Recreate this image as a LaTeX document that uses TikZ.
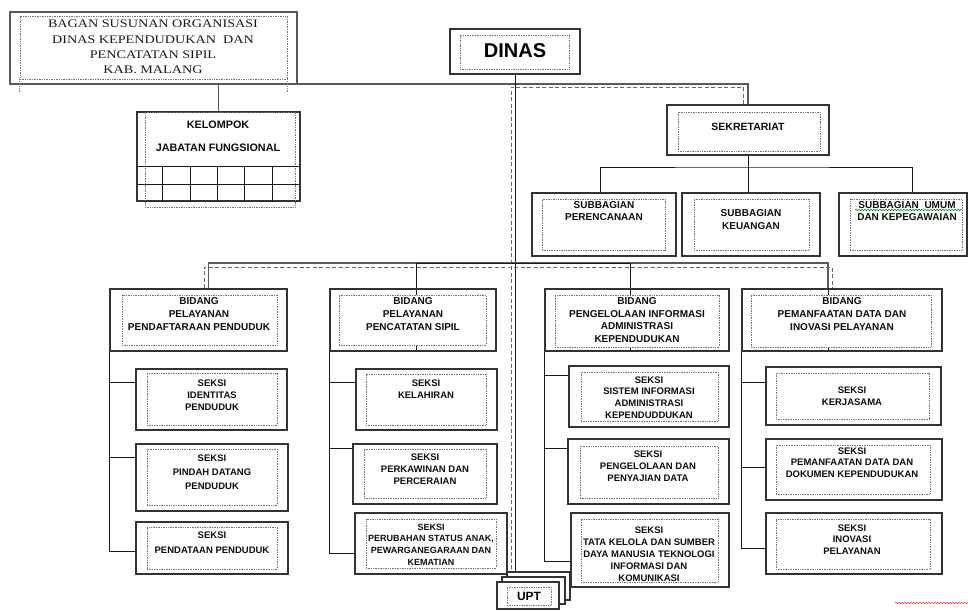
\documentclass[tikz,border=0pt]{standalone}
\usepackage{fontspec}
\setmainfont{Liberation Sans}
\newfontfamily\titlefont[FakeStretch=1.22]{Liberation Serif}
\usetikzlibrary{calc,fit,backgrounds,decorations.pathmorphing}

\tikzset{
  obox/.style={draw=black!80, line width=1.4pt, inner sep=0pt},
  ibox/.style={draw=black!55, densely dotted, line width=0.7pt, inner sep=0pt, fill=white},
  dotline/.style={draw=black!55, densely dotted, line width=0.7pt},
  txt/.style={align=center, inner sep=0pt, text=black!95, font=\fontsize{9.5}{12.2}\selectfont\bfseries},
  midtxt/.style={txt, font=\fontsize{10}{12.8}\selectfont\bfseries},
  link/.style={draw=black!90, line width=0.9pt},
  glink/.style={draw=black!65, line width=1.2pt},
  dlink/.style={draw=black!60, line width=1pt, dash pattern=on 4pt off 2.5pt},
  wavy/.style={decorate, decoration={snake, amplitude=0.7pt, segment length=3pt}, line width=0.6pt}
}

\begin{document}
\begin{tikzpicture}[x=1pt, y=-1pt]
\useasboundingbox (0,0) rectangle (968,610);

% judul
\node[obox, draw=black!65, line width=1.6pt, fit={(10,12) (297,84)}] (title) {};
\node[ibox, fit={(20,16) (287,79)}] (titlein) {};
\node[align=center, inner sep=0pt, text=black!90, font=\titlefont\fontsize{11.6}{15.3}\selectfont] (titlet) at (153,47) {BAGAN SUSUNAN ORGANISASI\\DINAS KEPENDUDUKAN\ \ DAN\\PENCATATAN SIPIL\\KAB. MALANG};
\draw[dotline] (titlein.south west) -- ++(0,13);
\draw[dotline] (titlein.south east) -- ++(0,13);

% dinas
\node[obox, fit={(450,29) (580,74)}] (dinas) {};
\node[ibox, fit={(460,35) (569,69)}] (dinasin) {};
\node[txt, text=black, font=\fontsize{20}{24}\selectfont\bfseries] (dinast) at (515,51) {DINAS};

% kelompok jabatan fungsional
\node[obox, fit={(137,112) (300,201)}] (kel) {};
\node[ibox, fill=none, fit={(145,112) (295,207)}] (kelin) {};
\node[txt, font=\fontsize{10.8}{23}\selectfont\bfseries] (kelt) at (218,136.5) {KELOMPOK\\JABATAN FUNGSIONAL};
\draw[link] ($(kel.south west)+(0,-17)$) -- ($(kel.south east)+(0,-17)$);
\draw[link] ($(kel.south west)+(0,-35)$) -- ($(kel.south east)+(0,-35)$);
\foreach \x in {26,54,81,108,136}
  \draw[link] ($(kel.south west)+(\x,0)$) -- ++(0,-35);

% sekretariat
\node[obox, fit={(667,105) (829,155)}] (sek) {};
\node[ibox, fit={(678,112) (820,151)}] (sekin) {};
\node[txt, font=\fontsize{10.5}{13}\selectfont\bfseries] (sekt) at (748,127) {SEKRETARIAT};

% subbagian
\node[obox, fit={(532,193) (676,256)}] (sb1) {};
\node[ibox, fit={(542,199) (665,250)}] (sb1in) {};
\node[midtxt] (sb1t) at (604,211) {SUBBAGIAN\\PERENCANAAN};
\node[obox, fit={(682,193) (820,256)}] (sb2) {};
\node[ibox, fit={(694,199) (809,250)}] (sb2in) {};
\node[midtxt] (sb2t) at (751,219.5) {SUBBAGIAN\\KEUANGAN};
\node[obox, fit={(839,193) (967,256)}] (sb3) {};
\node[ibox, fit={(850,199) (962,250)}] (sb3in) {};
\node[midtxt] (sb3t) at (907,211) {SUBBAGIAN\ \ UMUM\\DAN KEPEGAWAIAN};
\draw[wavy, green!55!black] (855,210) -- (962,210);

% bidang
\node[obox, fit={(110,289) (287,351)}] (b1) {};
\node[ibox, fit={(122,295) (277,345)}] (b1in) {};
\node[midtxt] (b1t) at (199,314) {BIDANG\\PELAYANAN\\PENDAFTARAAN PENDUDUK};
\node[obox, fit={(330,289) (496,351)}] (b2) {};
\node[ibox, fit={(339,295) (486,345)}] (b2in) {};
\node[midtxt] (b2t) at (413,314) {BIDANG\\PELAYANAN\\PENCATATAN SIPIL};
\node[obox, fit={(545,289) (729,351)}] (b3) {};
\node[ibox, fit={(555,295) (719,347)}] (b3in) {};
\node[midtxt] (b3t) at (637,320) {BIDANG\\PENGELOLAAN INFORMASI\\ADMINISTRASI\\KEPENDUDUKAN};
\node[obox, fit={(742,289) (942,351)}] (b4) {};
\node[ibox, fit={(751,295) (931,347)}] (b4in) {};
\node[midtxt] (b4t) at (842,314) {BIDANG\\PEMANFAATAN DATA DAN\\INOVASI PELAYANAN};

% seksi bidang 1
\node[obox, fit={(136,369) (287,430)}] (s11) {};
\node[ibox, fit={(147,373) (277,425)}] (s11in) {};
\node[txt] (s11t) at (212,395) {SEKSI\\IDENTITAS\\PENDUDUK};
\node[obox, fit={(136,444) (288,511)}] (s12) {};
\node[ibox, fit={(147,449) (277,505)}] (s12in) {};
\node[txt, font=\fontsize{9.5}{14}\selectfont\bfseries] (s12t) at (212,472) {SEKSI\\PINDAH DATANG\\PENDUDUK};
\node[obox, fit={(136,522) (288,574)}] (s13) {};
\node[ibox, fit={(147,527) (277,569)}] (s13in) {};
\node[txt, font=\fontsize{9.5}{15}\selectfont\bfseries] (s13t) at (212,542.5) {SEKSI\\PENDATAAN PENDUDUK};

% seksi bidang 2
\node[obox, fit={(356,369) (497,430)}] (s21) {};
\node[ibox, fit={(366,374) (486,425)}] (s21in) {};
\node[txt] (s21t) at (426,389) {SEKSI\\KELAHIRAN};
\node[obox, fit={(353,444) (497,504)}] (s22) {};
\node[ibox, fit={(364,449) (486,498)}] (s22in) {};
\node[txt] (s22t) at (425,469.5) {SEKSI\\PERKAWINAN DAN\\PERCERAIAN};
\node[obox, fit={(355,513) (507,574)}] (s23) {};
\node[ibox, fit={(366,519) (496,568)}] (s23in) {};
\node[txt, font=\fontsize{9}{11.7}\selectfont\bfseries] (s23t) at (431,544.5) {SEKSI\\PERUBAHAN STATUS ANAK,\\PEWARGANEGARAAN DAN\\KEMATIAN};

% seksi bidang 3
\node[obox, fit={(569,366) (729,427)}] (s31) {};
\node[ibox, fit={(581,372) (718,421)}] (s31in) {};
\node[txt, font=\fontsize{9.5}{11.7}\selectfont\bfseries] (s31t) at (649,397.5) {SEKSI\\SISTEM INFORMASI\\ADMINISTRASI\\KEPENDUDDUKAN};
\node[obox, fit={(568,439) (729,504)}] (s32) {};
\node[ibox, fit={(580,446) (718,498)}] (s32in) {};
\node[txt] (s32t) at (648,466) {SEKSI\\PENGELOLAAN DAN\\PENYAJIAN DATA};
\node[obox, fit={(571,513) (729,587)}] (s33) {};
\node[ibox, fit={(581,519) (718,582)}] (s33in) {};
\node[txt, font=\fontsize{9.5}{12}\selectfont\bfseries] (s33t) at (649,554) {SEKSI\\TATA KELOLA DAN SUMBER\\DAYA MANUSIA TEKNOLOGI\\INFORMASI DAN\\KOMUNIKASI};

% seksi bidang 4
\node[obox, fit={(766,367) (941,425)}] (s41) {};
\node[ibox, fit={(776,373) (929,419)}] (s41in) {};
\node[txt] (s41t) at (852,396) {SEKSI\\KERJASAMA};
\node[obox, fit={(766,439) (942,500)}] (s42) {};
\node[ibox, fit={(776,445) (930,494)}] (s42in) {};
\node[txt, font=\fontsize{9.5}{11.5}\selectfont\bfseries] (s42t) at (852,462.5) {SEKSI\\PEMANFAATAN DATA DAN\\DOKUMEN KEPENDUDUKAN};
\node[obox, fit={(766,513) (942,574)}] (s43) {};
\node[ibox, fit={(776,519) (930,569)}] (s43in) {};
\node[txt, font=\fontsize{9.5}{11.5}\selectfont\bfseries] (s43t) at (852,539.5) {SEKSI\\INOVASI\\PELAYANAN};

% upt
\node[obox, fill=white, fit={(507,572) (570,600)}] (upt3) {};
\node[obox, fill=white, fit={(502,577) (565,604)}] (upt2) {};
\node[obox, fill=white, fit={(497,582) (559,609)}] (upt) {};
\node[ibox, fit={(507,587) (551,605)}] (uptin) {};
\node[txt, text=black, font=\fontsize{12}{14}\selectfont\bfseries] (uptt) at (529,596) {UPT};

\draw[wavy, red!80] (895,603) -- (968,603);

% garis
\begin{scope}[on background layer]
\coordinate (hub) at (515,84);
\coordinate (dhub) at (511,87);
\coordinate (bhub) at (515,263);
\coordinate (dbar) at (511,267);
\coordinate (shub) at (748,167);
\draw[glink] (kel.north) |- (hub) -| (sek.north);
\draw[link] (dinas.south) -- (dinas.south |- upt3.north);
\draw[dlink] ([xshift=-4.5]sek.north) |- (dhub) -- (dhub |- upt3.north);
\draw[link] (sek.south) -- (sek.south |- sb2.north);
\draw[link] ([xshift=-4]sb1.north) |- (shub) -| ([xshift=9]sb3.north);
\draw[glink] ([xshift=10]b1.north) |- (bhub) -| ([xshift=-14]b4.north);
\draw[dlink] ([xshift=5.5]b1.north) |- (dbar) -| ([xshift=-10]b4.north);
\draw[link] ([xshift=3]b2.south) |- (bhub);
\draw[link] ([xshift=-7]b3.south) |- (bhub);
\draw[link] ([xshift=-14]b4.south) -- ([xshift=-14]b4.north);
\draw[link] ([yshift=17.5]s11.west) -| (b1.south west);
\draw[link] ([yshift=20.5]s12.west) -| (b1.south west);
\draw[link] ([yshift=-3]s13.west) -| (b1.south west);
\draw[link] ([yshift=17.5]s21.west) -| (b2.south west);
\draw[link] ([yshift=26]s22.west) -| (b2.south west);
\draw[link] ([yshift=-9.5]s23.west) -| (b2.south west);
\draw[link] ([yshift=21.5]s31.west) -| (b3.south west);
\draw[link] ([yshift=23.5]s32.west) -| (b3.south west);
\draw[link] ([yshift=-11]s33.west) -| (b3.south west);
\draw[link] ([yshift=14]s41.west) -| (b4.south west);
\draw[link] ([yshift=2.5]s42.west) -| (b4.south west);
\draw[link] ([yshift=-4.5]s43.west) -| (b4.south west);
\end{scope}
\end{tikzpicture}
\end{document}
